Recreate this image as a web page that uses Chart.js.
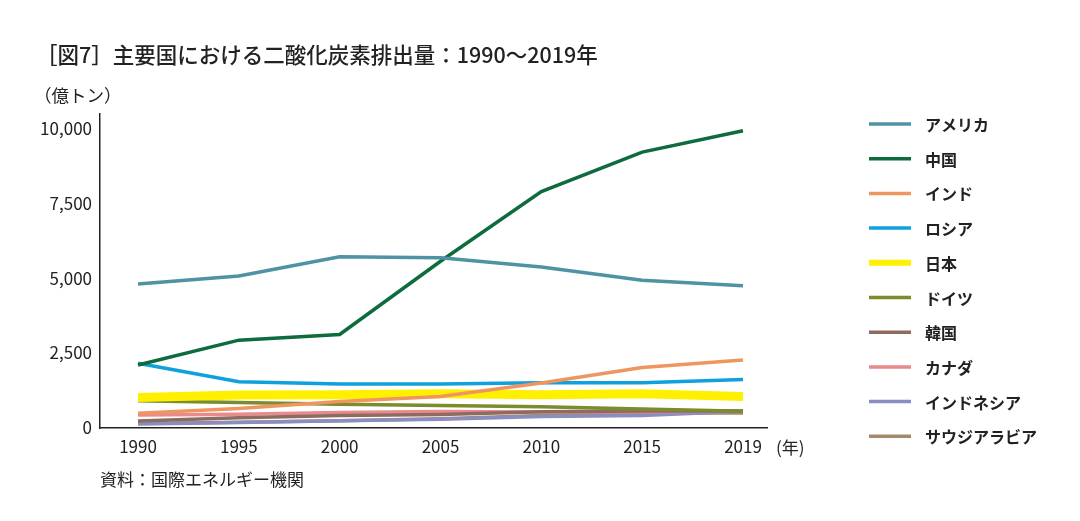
<!DOCTYPE html>
<html lang="ja">
<head>
<meta charset="utf-8">
<script src="https://cdn.jsdelivr.net/npm/chart.js@4"></script>
<style>
  body { margin: 0; background: #fff; }
  #wrap { position: relative; width: 1080px; height: 521px; font-family: "Noto Sans CJK JP", "Noto Sans", sans-serif; color: #222; }
  .txt { position: absolute; white-space: nowrap; line-height: 1; }
</style>
</head>
<body>
<div id="wrap">
  <canvas id="chart"></canvas>
  <div class="txt" style="left:36px;top:43px;font-size:21.5px;font-weight:500;">［図7］主要国における二酸化炭素排出量：1990～2019年</div>
  <div class="txt" style="left:34px;top:86px;font-size:17.5px;">（億トン）</div>
  <div class="txt" style="left:776px;top:438px;font-size:17px;">(年)</div>
  <div class="txt" style="left:100px;top:470px;font-size:17px;">資料：国際エネルギー機関</div>
</div>
<script>
// 年（カテゴリ）
const years = ['1990', '1995', '2000', '2005', '2010', '2015', '2019'];
const countries = ['アメリカ', '中国', 'インド', 'ロシア', '日本', 'ドイツ', '韓国', 'カナダ', 'インドネシア', 'サウジアラビア'];
// 排出量
const usa = [4800, 5070, 5710, 5680, 5370, 4930, 4740];
const china = [2100, 2930, 3120, 5560, 7880, 9200, 9910];
const india = [490, 650, 880, 1050, 1500, 2020, 2270];
const russia = [2160, 1540, 1470, 1470, 1510, 1510, 1620];
const japan = [1020, 1100, 1110, 1140, 1110, 1140, 1050];
const germany = [910, 850, 790, 750, 710, 630, 560];
const korea = [230, 340, 420, 450, 540, 570, 570];
const canada = [430, 460, 520, 550, 530, 540, 560];
const indonesia = [130, 180, 240, 290, 380, 420, 560];
const saudi = [150, 190, 240, 310, 420, 500, 500];
const yTicks = [0, 2500, 5000, 7500, 10000];

const series = [usa, china, india, russia, japan, germany, korea, canada, indonesia, saudi];
const colors = ['#4f92a3', '#0d6b3d', '#ef9660', '#10a0dc', '#fff000', '#7a8c2c', '#8e6b60', '#e98a8c', '#8a8dc0', '#a4896f'];
const widths = [3.5, 3.5, 3.5, 3.5, 9, 3.5, 3.5, 3.5, 3.5, 3.5];

const FONT = '"Noto Sans CJK JP", "Noto Sans", sans-serif';

// 凡例（右側に縦並び）
const legendPlugin = {
    id: 'sideLegend',
    afterDraw(chart) {
        const ctx = chart.ctx;
        ctx.save();
        chart.data.datasets.forEach((ds, i) => {
            const y = 124 + i * 34.7;
            ctx.strokeStyle = ds.borderColor;
            ctx.lineWidth = Math.min(ds.borderWidth, 6);
            ctx.beginPath();
            ctx.moveTo(869, y);
            ctx.lineTo(911, y);
            ctx.stroke();
            ctx.fillStyle = '#222';
            ctx.font = 'bold 16px ' + FONT;
            ctx.textBaseline = 'middle';
            ctx.fillText(ds.label, 925, y + 1);
        });
        ctx.restore();
    }
};

new Chart(document.getElementById('chart').getContext('2d'), {
    type: 'line',
    data: {
        datasets: series.map((vals, i) => ({
            label: countries[i],
            data: vals.map((v, j) => ({x: j, y: v})),
            borderColor: colors[i],
            backgroundColor: colors[i],
            borderWidth: widths[i],
            pointRadius: 0,
            tension: 0,
            fill: false
        }))
    },
    options: {
        responsive: true,
        maintainAspectRatio: false,
        animation: false,
        layout: {padding: {top: 114, right: 313, left: 0, bottom: 0}},
        plugins: {legend: {display: false}, tooltip: {enabled: false}},
        scales: {
            x: {
                type: 'linear',
                min: -0.377,
                max: 6.238,
                afterFit: s => { s.height = 93; },
                grid: {display: false, drawTicks: false},
                border: {display: true, color: '#222', width: 1.5},
                ticks: {
                    stepSize: 1,
                    includeBounds: false,
                    padding: 8,
                    color: '#222',
                    font: {family: FONT, size: 17},
                    callback: v => years[v] ?? ''
                }
            },
            y: {
                min: 0,
                max: 10470,
                afterFit: s => { s.width = 100; },
                afterBuildTicks: s => { s.ticks = yTicks.map(v => ({value: v})); },
                grid: {display: false, drawTicks: false},
                border: {display: true, color: '#222', width: 1.5},
                ticks: {
                    padding: 8,
                    color: '#222',
                    font: {family: FONT, size: 17},
                    callback: v => v.toLocaleString('en-US')
                }
            }
        }
    },
    plugins: [legendPlugin]
});
</script>
</body>
</html>
